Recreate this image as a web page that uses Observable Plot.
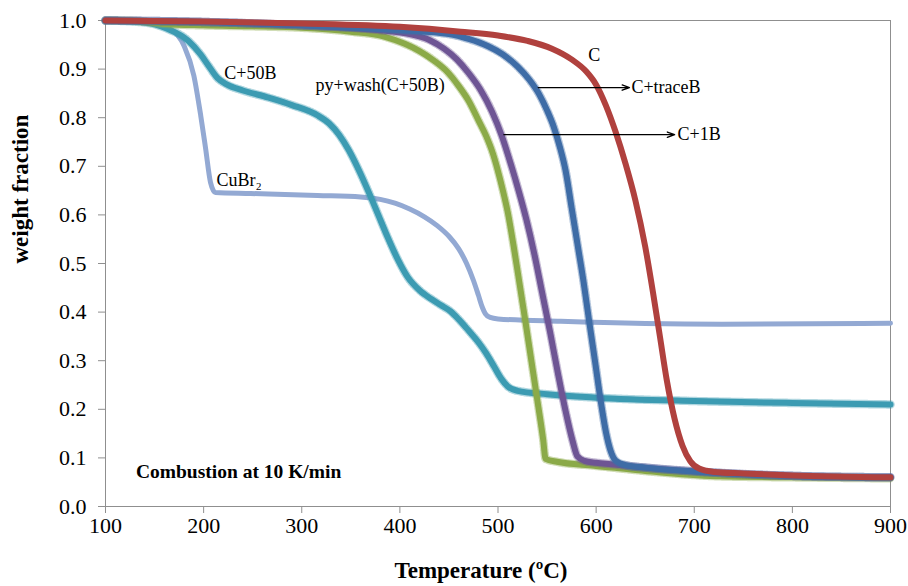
<!DOCTYPE html>
<html>
<head>
<meta charset="utf-8">
<script src="https://cdn.jsdelivr.net/npm/d3@7"></script>
<script src="https://cdn.jsdelivr.net/npm/@observablehq/plot@0.6"></script>
<style>
  html, body { margin: 0; padding: 0; background: #fff; }
  #chart svg { display: block; }
</style>
</head>
<body>
<div id="chart"></div>
<script>
// ---- data (temperature in ºC, weight fraction) ----
const seriesNames = ["C", "C+traceB", "C+1B", "py+wash(C+50B)", "C+50B", "CuBr2"];

const tC = [100, 200, 300, 400, 462, 500, 530, 555, 575, 590, 600, 610, 620, 630, 640, 650, 658, 665, 672, 680, 688, 696, 705, 720, 750, 800, 900];
const wC = [1.0, 0.998, 0.994, 0.987, 0.977, 0.969, 0.958, 0.942, 0.92, 0.895, 0.868, 0.825, 0.77, 0.705, 0.63, 0.535, 0.44, 0.35, 0.26, 0.18, 0.125, 0.093, 0.078, 0.071, 0.068, 0.064, 0.06];

const tTrace = [100, 200, 300, 400, 450, 470, 490, 505, 520, 532, 542, 550, 557, 563, 569, 575, 581, 587, 593, 599, 605, 610, 615, 620, 630, 650, 700, 800, 900];
const wTrace = [1.0, 0.997, 0.99, 0.98, 0.972, 0.962, 0.947, 0.93, 0.905, 0.878, 0.848, 0.815, 0.78, 0.74, 0.69, 0.615, 0.54, 0.465, 0.38, 0.297, 0.213, 0.153, 0.113, 0.094, 0.085, 0.08, 0.072, 0.063, 0.06];

const t1B = [100, 200, 300, 380, 410, 430, 445, 458, 470, 482, 494, 504, 513, 521, 529, 537, 545, 553, 561, 569, 576, 581, 588, 600, 615, 650, 720, 800, 900];
const w1B = [1.0, 0.997, 0.99, 0.98, 0.972, 0.96, 0.942, 0.92, 0.892, 0.858, 0.812, 0.762, 0.705, 0.65, 0.59, 0.52, 0.44, 0.36, 0.275, 0.195, 0.135, 0.103, 0.094, 0.09, 0.087, 0.08, 0.07, 0.063, 0.06];

const tWash = [100, 130, 160, 200, 250, 300, 350, 384, 405, 420, 435, 448, 460, 470, 480, 488, 495, 500, 505, 510, 516, 522, 528, 534, 540, 546, 548.5, 560, 598, 666, 727, 800, 900];
const wWash = [1.0, 0.999, 0.993, 0.99, 0.988, 0.985, 0.977, 0.967, 0.952, 0.937, 0.917, 0.895, 0.865, 0.835, 0.795, 0.762, 0.725, 0.69, 0.65, 0.605, 0.535, 0.458, 0.38, 0.3, 0.22, 0.138, 0.098, 0.092, 0.084, 0.07, 0.062, 0.06, 0.058];

const t50B = [100, 140, 163, 184, 197, 205, 214, 224, 240, 265, 290, 316, 328, 338, 348, 358, 368, 378, 388, 398, 408, 420, 432, 442, 452, 460, 470, 480, 488, 496, 503, 510, 520, 550, 600, 700, 800, 900];
const w50B = [1.0, 0.996, 0.983, 0.959, 0.93, 0.907, 0.882, 0.868, 0.856, 0.842, 0.826, 0.805, 0.788, 0.765, 0.733, 0.693, 0.648, 0.6, 0.552, 0.508, 0.472, 0.445, 0.427, 0.414, 0.401, 0.385, 0.362, 0.338, 0.315, 0.288, 0.264, 0.247, 0.238, 0.231, 0.224, 0.217, 0.213, 0.21];

const tCuBr = [100, 146, 166, 180, 190, 197, 202, 207, 212, 248, 316, 360, 380, 395, 410, 425, 438, 450, 460, 468, 475, 480, 484, 487, 492, 500, 564, 728, 900];
const wCuBr = [1.0, 0.996, 0.983, 0.948, 0.887, 0.805, 0.737, 0.667, 0.646, 0.644, 0.64, 0.637, 0.632, 0.624, 0.612, 0.596, 0.578, 0.556, 0.53, 0.5, 0.465, 0.435, 0.41, 0.397, 0.389, 0.386, 0.381, 0.375, 0.377];

const xTicks = [100, 200, 300, 400, 500, 600, 700, 800, 900];
const yTicks = [0, 0.1, 0.2, 0.3, 0.4, 0.5, 0.6, 0.7, 0.8, 0.9, 1.0];

// annotation labels (data coordinates)
const labelText = ["C", "C+traceB", "C+1B", "C+50B", "py+wash(C+50B)", "CuBr₂"];
const labelX    = [598, 636, 683, 221, 314, 213];
const labelY    = [0.928, 0.862, 0.767, 0.891, 0.866, 0.671];
const labelAnchor = ["middle", "start", "start", "start", "start", "start"];

const arrowX1 = [541, 506];
const arrowX2 = [634, 680];
const arrowY  = [0.862, 0.765];

const colors = {
  "C": "#B0413E",
  "C+traceB": "#3E6CA6",
  "C+1B": "#6E5594",
  "py+wash(C+50B)": "#8BAA48",
  "C+50B": "#3C9BB2",
  "CuBr2": "#93A9D3"
};
const fuzzy = {"C+1B": true, "C+50B": true, "py+wash(C+50B)": true, "C+traceB": true, "C": false, "CuBr2": false};

const series = [
  {name: "CuBr2", t: tCuBr, w: wCuBr},
  {name: "C+50B", t: t50B, w: w50B},
  {name: "py+wash(C+50B)", t: tWash, w: wWash},
  {name: "C+1B", t: t1B, w: w1B},
  {name: "C+traceB", t: tTrace, w: wTrace},
  {name: "C", t: tC, w: wC}
];

const lineMarks = series.flatMap(s => {
  const rows = s.t.map((t, i) => ({t, w: s.w[i]}));
  const marks = [];
  if (fuzzy[s.name]) {
    marks.push(Plot.line(rows, {x: "t", y: "w", stroke: colors[s.name], strokeWidth: 8.5, strokeOpacity: 0.4, strokeDasharray: "1.2 1.8", curve: "monotone-x"}));
  }
  marks.push(Plot.line(rows, {x: "t", y: "w", stroke: colors[s.name], strokeWidth: s.name === "CuBr2" ? 5 : 6, curve: "monotone-x"}));
  return marks;
});

const labels = labelText.map((text, i) => ({text, x: labelX[i], y: labelY[i], anchor: labelAnchor[i]}));
const arrows = arrowX1.map((x1, i) => ({x1, x2: arrowX2[i], y: arrowY[i]}));

const chart = Plot.plot({
  width: 908,
  height: 586,
  marginLeft: 105,
  marginRight: 18,
  marginTop: 20,
  marginBottom: 80,
  style: {fontFamily: "'Liberation Serif', 'Times New Roman', serif", fontSize: "22px", color: "#000", background: "#fff"},
  x: {domain: [100, 900]},
  y: {domain: [0, 1]},
  marks: [
    Plot.frame({stroke: "#8f8f8f"}),
    Plot.axisX({ticks: xTicks, tickSize: 7, tickPadding: 4, label: null, stroke: "#8f8f8f", fontSize: 22}),
    Plot.axisY({ticks: yTicks, tickSize: 7, tickPadding: 12, tickFormat: d3.format(".1f"), label: null, stroke: "#8f8f8f", fontSize: 22}),
    ...lineMarks,
    Plot.arrow(arrows, {x1: "x1", x2: "x2", y1: "y", y2: "y", stroke: "#000", strokeWidth: 1.3, headLength: 9, headAngle: 40}),
    ...labels.map(d => Plot.text([d], {x: "x", y: "y", text: "text", textAnchor: d.anchor, fontSize: 18, fill: "#000"})),
    Plot.text(["Combustion at 10 K/min"], {x: 131, y: 0.072, text: d => d, textAnchor: "start", fontSize: 19.5, fontWeight: "bold", fill: "#000"}),
    Plot.text(["Temperature (ºC)"], {frameAnchor: "bottom", dy: 71, dx: -17, text: d => d, fontSize: 23, fontWeight: "bold", fill: "#000"}),
    Plot.text(["weight fraction"], {frameAnchor: "left", dx: -85, rotate: -90, text: d => d, fontSize: 23, fontWeight: "bold", fill: "#000"})
  ]
});

document.getElementById("chart").appendChild(chart);
</script>
</body>
</html>
